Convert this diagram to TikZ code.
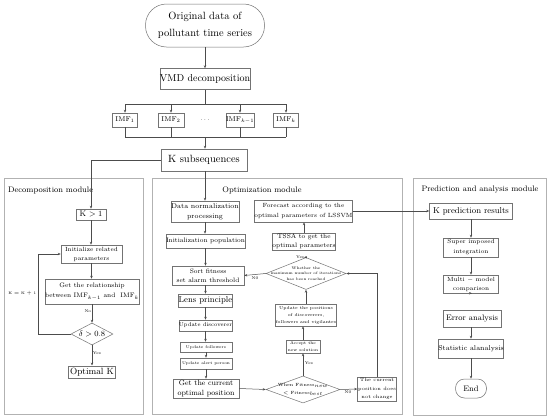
\documentclass[tikz,border=0pt]{standalone}
\usetikzlibrary{shapes.geometric,arrows.meta}
\newcommand{\fsz}[2]{\fontsize{#1}{#2}\selectfont}
\begin{document}
\begin{tikzpicture}[x=1pt,y=-1pt,
 box/.style={draw=black!55, line width=0.5pt, rectangle, inner sep=0pt, align=center},
 rbox/.style={box, rounded corners=#1},
 dia/.style={draw=black!55, line width=0.5pt, diamond, inner sep=0pt},
 arr/.style={-{Stealth[length=3pt,width=2.4pt]}, draw=black!70, line width=0.5pt},
 ln/.style={draw=black!70, line width=0.5pt},
 frame/.style={draw=black!30, line width=0.7pt},
 lbl/.style={inner sep=0.6pt, font=\fsz{4}{5}},
 ttl/.style={inner sep=0pt, font=\fsz{8}{9}},
]
\useasboundingbox[fill=white] (0,0) rectangle (550,418);

% frames
\draw[frame] (4,178) rectangle (143,414);
\draw[frame] (152,178) rectangle (402,414);
\draw[frame] (413,178) rectangle (546,415);
\node[ttl, anchor=west] (t1) at (8,190) {Decomposition module};
\node[ttl] (t2) at (262,190) {Optimization module};
\node[ttl] (t3) at (480,190) {Prediction and analysis module};

% top part
\node[rbox=21pt, minimum width=119pt, minimum height=43pt, font=\fsz{10.5}{17.5}] (orig) at (205,25.5) {Original data of\\pollutant time series};
\node[box, minimum width=90pt, minimum height=21pt, font=\fsz{10}{12}] (vmd) at (205,79) {VMD decomposition};
\node[box, minimum width=25pt, minimum height=14pt, font=\fsz{7}{8}] (i1) at (125,120) {IMF$_1$};
\node[box, minimum width=26pt, minimum height=14pt, font=\fsz{7}{8}] (i2) at (171,120) {IMF$_2$};
\node[inner sep=0pt, font=\fsz{6}{7}] (dots) at (205,120) {$\cdots$};
\node[box, minimum width=26pt, minimum height=14pt, font=\fsz{7}{8}] (i3) at (240,120) {IMF$_{k-1}$};
\node[box, minimum width=25pt, minimum height=14pt, font=\fsz{7}{8}] (i4) at (286,120) {IMF$_k$};
\node[box, minimum width=86pt, minimum height=22pt, font=\fsz{10.5}{12}] (ks) at (204,160) {K subsequences};

\coordinate (bt) at (205,104);
\coordinate (bb) at (205,137);
\draw[arr] (orig.south) -- (orig.south |- vmd.north);
\draw[ln] (vmd.south) -- (bt);
\draw[ln] (i1.north |- bt) -- (i4.north |- bt);
\foreach \n in {i1,i2,i3,i4}{
  \draw[arr] (\n.north |- bt) -- (\n.north);
  \draw[ln] (\n.south) -- (\n.south |- bb);
}
\draw[ln] (i1.south |- bb) -- (i4.south |- bb);
\draw[arr] (bb) -- (bb |- ks.north);

% decomposition module
\node[box, minimum width=30pt, minimum height=11pt, font=\fsz{8}{9}] (k1) at (91,214.5) {K $>1$};
\node[box, minimum width=61pt, minimum height=18pt, font=\fsz{6}{9}] (init) at (91.5,254) {Initialize related\\parameters};
\node[box, minimum width=88pt, minimum height=25pt, font=\fsz{6.5}{10}] (rel) at (92,291.5) {Get the relationship\\between IMF$_{k-1}$ and\ \ IMF$_k$};
\node[dia, minimum width=42pt, minimum height=22pt, label={[font=\fsz{8.5}{10}]center:$\delta>0.8$}] (del) at (92,334) {};
\node[box, minimum width=47pt, minimum height=12.5pt, font=\fsz{9}{10}] (optk) at (92,372) {Optimal K};
\coordinate (lp1) at (38,334);

\draw[arr] (ks.west) -| (k1.north);
\draw[arr] (k1.south) -- (k1.south |- init.north);
\draw[arr] (init.south) -- (init.south |- rel.north);
\draw[arr] (rel.south) -- (rel.south |- del.north) node[lbl, pos=0.4, anchor=east] (no1) {No};
\draw[arr] (del.south) -- (del.south |- optk.north) node[lbl, pos=0.4, anchor=west] (yes1) {Yes};
\draw[arr] (del.west) -- (lp1) |- (init.west);
\node[lbl, anchor=east, font=\fsz{3.8}{4.5}] (kk) at (37,293) {K $=$ K $+$ 1};

% optimization module, left column
\node[box, minimum width=67pt, minimum height=21pt, font=\fsz{7}{10}] (dn) at (205,211.5) {Data normalization\\processing};
\node[box, minimum width=75pt, minimum height=14pt, font=\fsz{6.5}{8}] (ip) at (205.5,241) {Initialization population};
\node[box, minimum width=72pt, minimum height=19pt, font=\fsz{6.5}{9}] (sf) at (208,275.5) {Sort fitness\\set alarm threshold};
\node[box, minimum width=53pt, minimum height=13pt, font=\fsz{8.5}{10}] (lens) at (205.5,300.5) {Lens principle};
\node[box, minimum width=53pt, minimum height=11pt, font=\fsz{5.5}{7}] (ud) at (205.5,325.5) {Update discoverer};
\node[box, minimum width=52pt, minimum height=10pt, font=\fsz{4}{5}] (uf) at (206,347) {Update followers};
\node[box, minimum width=52pt, minimum height=11pt, font=\fsz{4}{5}] (ua) at (206,363.5) {Update alert person};
\node[box, minimum width=66pt, minimum height=19pt, font=\fsz{7.5}{10}] (gc) at (206,388.5) {Get the current\\optimal position};

\draw[arr] (ks.south -| dn.north) -- (dn.north);
\draw[arr] (dn.south) -- (dn.south |- ip.north);
\draw[arr] (ip.south) -- (ip.south |- sf.north);
\draw[arr] (ip.south |- sf.south) -- (ip.south |- lens.north);
\draw[arr] (lens.south) -- (lens.south |- ud.north);
\draw[arr] (ud.south) -- (ud.south |- uf.north);
\draw[arr] (uf.south) -- (uf.south |- ua.north);
\draw[arr] (ua.south) -- (ua.south |- gc.north);

% optimization module, right column
\node[box, minimum width=91pt, minimum height=22pt, font=\fsz{6}{10}] (fc) at (303.5,211) {Forecast according to the\\optimal parameters of LSSVM};
\node[box, minimum width=62pt, minimum height=17pt, font=\fsz{6.5}{9}] (ts) at (304,241.5) {TSSA to get the\\optimal parameters};
\node[dia, minimum width=80pt, minimum height=32pt, label={[font=\fsz{3.8}{5.2}, align=center]center:Whether the\\maximum number of iterations\\has been reached}] (wd) at (306,273.5) {};
\node[box, minimum width=61pt, minimum height=22pt, font=\fsz{4.3}{7}] (up) at (306,315) {Update the positions\\of discoverers,\\followers and vigilantes};
\node[box, minimum width=34pt, minimum height=13pt, font=\fsz{4}{7}] (ac) at (303,346.5) {Accept the\\new solution};
\node[dia, minimum width=74pt, minimum height=27pt, label={[font=\fsz{4.5}{8}, align=center]center:When Fitness$_{new}$\\$<$ Fitness$_{best}$}] (wf) at (303,389.5) {};
\node[box, minimum width=39pt, minimum height=24pt, font=\fsz{4.8}{8.3}] (nc) at (377,389) {The current\\position does\\not change};
\coordinate (cr) at (377,273.5);

\draw[arr] (ts.north) -- (ts.north |- fc.south);
\draw[arr] (wd.north) -- (wd.north -| ts.south) node[lbl, pos=0.5, anchor=east] (yes2) {Yes};
\draw[arr] (wd.west) -- (sf.east) node[lbl, pos=0.5, anchor=north, yshift=-1pt] (no2) {N0};
\draw[arr] (up.north -| wd.south) -- (wd.south);
\draw[arr] (ac.north) -- (ac.north |- up.south);
\draw[arr] (wf.north) -- (wf.north |- ac.south) node[lbl, pos=0.55, anchor=west, xshift=1pt] (yes3) {Yes};
\draw[arr] (gc.east) -- (wf.west);
\draw[arr] (wf.east) -- (nc.west) node[lbl, pos=0.45, anchor=north, yshift=-1pt] (no3) {N0};
\draw[arr] (nc.north) -- (cr) -- (wd.east);

% prediction module
\node[box, minimum width=83pt, minimum height=16pt, font=\fsz{8.5}{10}] (kp) at (471,211) {K prediction results};
\node[box, minimum width=55pt, minimum height=19pt, font=\fsz{6}{10}] (si) at (471,247.5) {Super imposed\\integration};
\node[box, minimum width=55pt, minimum height=18pt, font=\fsz{6}{9}] (mm) at (471,284) {Multi $-$ model\\comparison};
\node[box, minimum width=58pt, minimum height=17pt, font=\fsz{8}{10}] (ea) at (472,318.5) {Error analysis};
\node[box, minimum width=62pt, minimum height=19pt, font=\fsz{7}{9}] (sa) at (471,348.5) {Statistic alanalysis};
\node[rbox=9pt, minimum width=31pt, minimum height=19pt, font=\fsz{8}{10}] (endn) at (471,388.5) {End};

\draw[arr] (fc.east) -- (fc.east -| kp.west);
\draw[arr] (kp.south) -- (si.north);
\draw[arr] (si.south) -- (mm.north);
\draw[arr] (mm.south) -- (mm.south -| ea.north);
\draw[arr] (sa.north |- ea.south) -- (sa.north);
\draw[arr] (sa.south) -- (endn.north);
\end{tikzpicture}
\end{document}
